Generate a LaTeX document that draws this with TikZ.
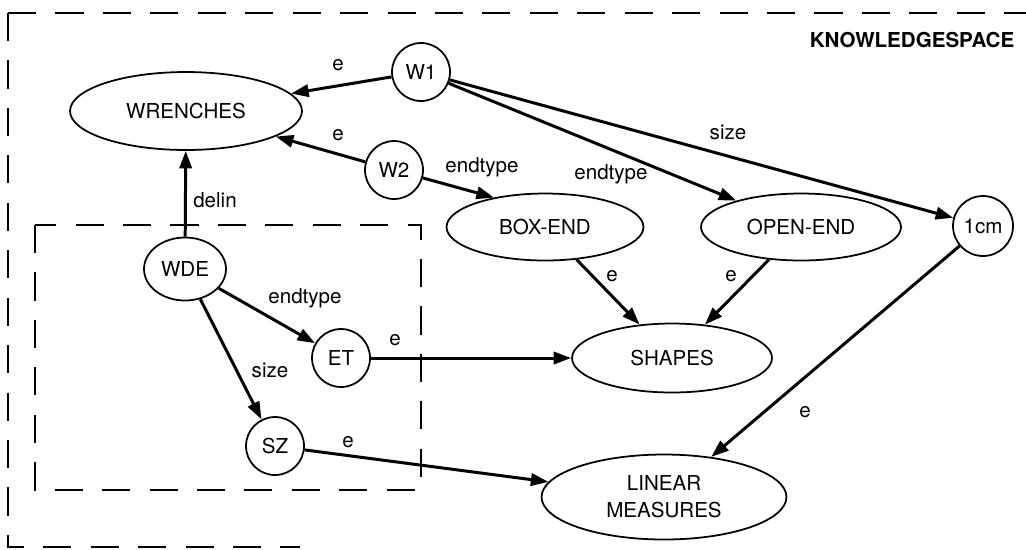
\documentclass[tikz,border=0pt]{standalone}
\usepackage{fontspec}
\setmainfont{TeX Gyre Heros}
\usetikzlibrary{arrows.meta,shapes.geometric}

\begin{document}
\begin{tikzpicture}[x=0.02cm,y=-0.02cm,
  every node/.style={font=\fontsize{11.7}{15.4}\selectfont},
  oval/.style={draw,ellipse,line width=1pt,inner sep=0pt},
  dot/.style={draw,circle,line width=1pt,minimum size=1.16cm,inner sep=0pt},
  rel/.style={line width=1.7pt,-{Triangle[length=10pt,width=7pt]}},
  lbl/.style={inner sep=0pt},
  frame/.style={line width=1.1pt,dash pattern=on 16pt off 11pt}]
\useasboundingbox (0,0) rectangle (1026,549);
% knowledge space frames
\draw[frame] (8,13) -- (1026,13);
\draw[frame] (8,13) -- (8,547) -- (300,547);
\draw[frame] (35,225) rectangle (421,490);
\node[font=\fontsize{11.7}{14}\selectfont\bfseries] (space) at (912,40) {KNOWLEDGESPACE};
% nodes
\node[oval,minimum width=4.64cm,minimum height=1.56cm] (wrenches) at (186,111) {WRENCHES};
\node[dot] (w1) at (421,72) {W1};
\node[dot] (w2) at (394,170) {W2};
\node[oval,minimum width=3.94cm,minimum height=1.34cm] (boxend) at (545,227) {BOX-END};
\node[oval,minimum width=4cm,minimum height=1.34cm] (openend) at (801,227) {OPEN-END};
\node[dot,minimum size=1.2cm] (onecm) at (983,226) {1cm};
\node[oval,minimum width=1.64cm,minimum height=1.26cm] (wde) at (185,269) {WDE};
\node[dot] (et) at (341,358) {ET};
\node[dot] (sz) at (275,446) {SZ};
\node[oval,minimum width=4cm,minimum height=1.38cm] (shapes) at (672,358) {SHAPES};
\node[oval,minimum width=4.9cm,minimum height=1.7cm,align=center] (linear) at (664,497) {LINEAR\\MEASURES};
% relations
\draw[rel] (w1) -- (wrenches);
\draw[rel] (w2) -- (wrenches);
\draw[rel] (w2) -- (boxend.150);
\draw[rel] (w1) -- (openend);
\draw[rel] (w1) -- (onecm);
\draw[rel] (wde) -- (wrenches);
\draw[rel] (wde) -- (et);
\draw[rel] (wde) -- (sz);
\draw[rel] (et) -- (shapes);
\draw[rel] (sz) -- (linear);
\draw[rel] (boxend) -- (shapes);
\draw[rel] (openend) -- (shapes);
\draw[rel] (onecm) -- (linear);
% labels
\node[lbl] (e1) at (338,65) {e};
\node[lbl] (e2) at (338,135) {e};
\node[lbl] (t1) at (482,167) {endtype};
\node[lbl] (t2) at (611,174) {endtype};
\node[lbl] (s1) at (728,132) {size};
\node[lbl] (d1) at (215,200) {delin};
\node[lbl] (t3) at (305,298) {endtype};
\node[lbl] (s2) at (270,370) {size};
\node[lbl] (e3) at (395,340) {e};
\node[lbl] (e4) at (348,442) {e};
\node[lbl] (e5) at (612,276) {e};
\node[lbl] (e6) at (731,276) {e};
\node[lbl] (e7) at (805,412) {e};
\end{tikzpicture}
\end{document}
